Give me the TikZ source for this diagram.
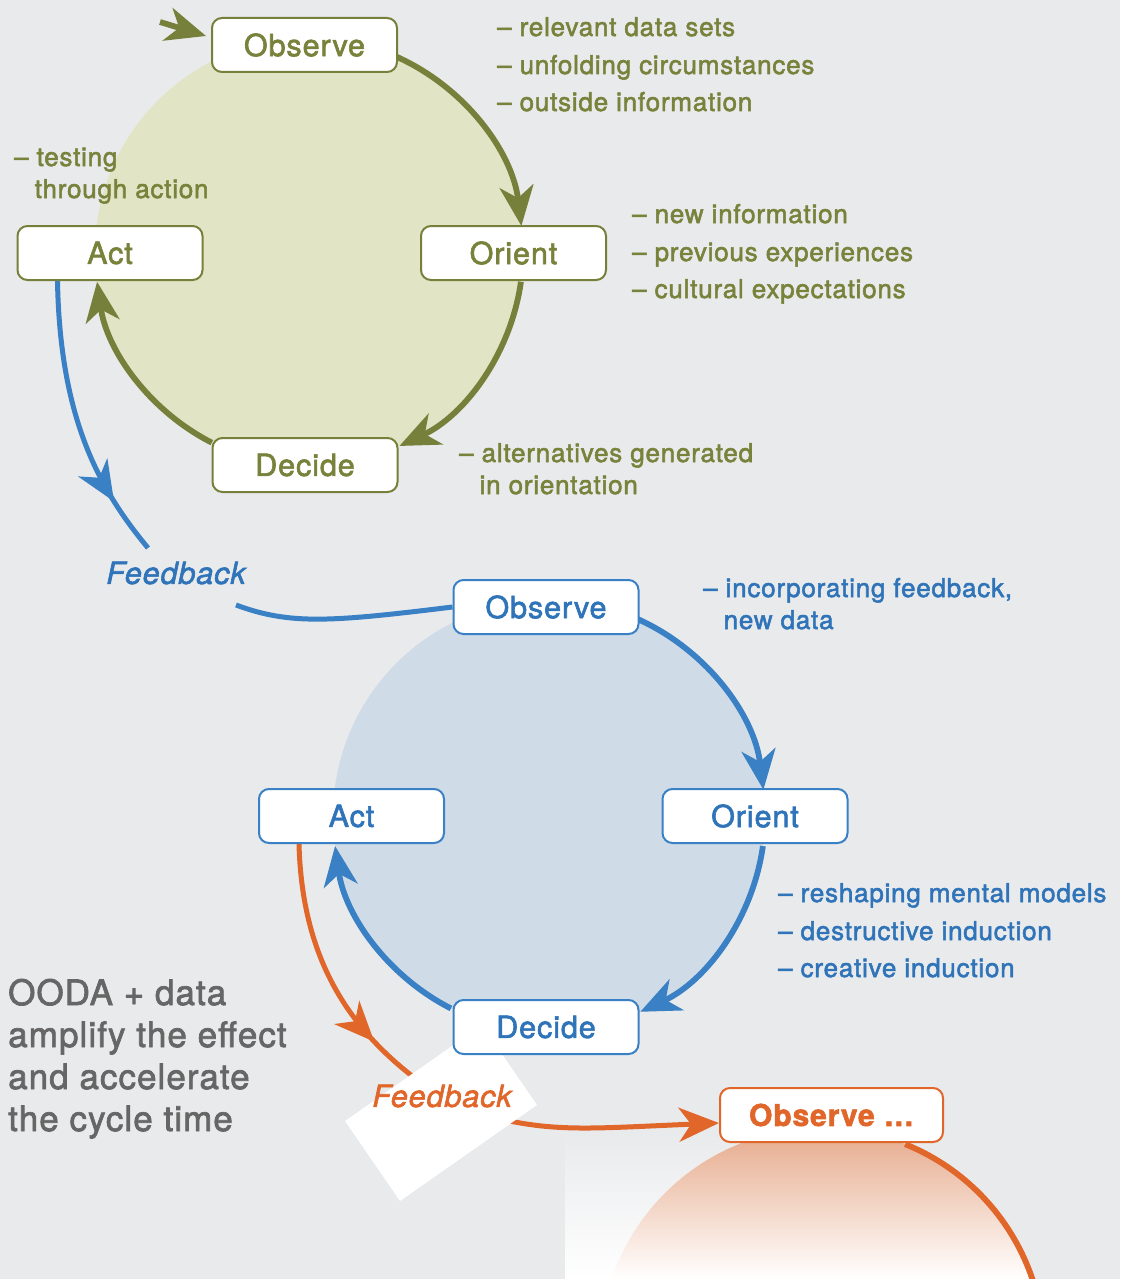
\documentclass[tikz,border=0pt]{standalone}
\usepackage{fontspec}
\setmainfont{TeX Gyre Heros}[FakeBold=2, LetterSpace=3]
\usetikzlibrary{arrows.meta,calc,decorations.markings}
\pgfdeclarelayer{back}
\pgfsetlayers{back,main}
\definecolor{bg}{HTML}{E9EAEC}
\definecolor{gline}{HTML}{76803A}
\definecolor{gtext}{HTML}{78823A}
\definecolor{gdisc}{HTML}{E1E5C6}
\definecolor{bline}{HTML}{3A80C4}
\definecolor{btext}{HTML}{2F74B8}
\definecolor{bdisc}{HTML}{CFDCE8}
\definecolor{oline}{HTML}{E0662A}
\definecolor{odisc}{HTML}{E6A98A}
\definecolor{graytext}{HTML}{666666}
\tikzset{
  bigtip/.tip={Stealth[length=40pt,width=34pt,inset=12pt]},
  box/.style={draw, line width=2pt, rounded corners=10pt, fill=white,
    minimum width=185pt, minimum height=54pt, inner sep=0pt,
    font=\fontsize{30.5}{36}\selectfont},
  gbox/.style={box, draw=gline, text=gtext},
  bbox/.style={box, draw=bline, text=btext},
  obox/.style={box, draw=oline, text=oline, minimum width=223pt, font=\fontsize{30}{36}\selectfont\bfseries},
  arcline/.style={line width=5.8pt, -bigtip},
  fbline/.style={line width=5pt},
  midtip/.style={postaction={decorate}, decoration={markings, mark=at position #1 with {\arrow{bigtip}}}},
  side/.style={anchor=base west, inner sep=0pt, font=\fontsize{26}{32}\selectfont, align=left},
  fbtext/.style={inner sep=0pt, font=\fontsize{30.5}{36}\selectfont\itshape},
}
\begin{document}
\begin{tikzpicture}[x=1pt,y=-1pt]
\useasboundingbox (0,0) rectangle (1120,1279);
\begin{pgfonlayer}{back}
\fill[bg] (0,0) rectangle (1120,1279);
\end{pgfonlayer}
\clip (0,0) rectangle (1120,1279);

% centres
\coordinate (gc) at (309,252);
\coordinate (bc) at (549,816);
\coordinate (oc) at (822,1350);

% nodes
\node[gbox] (gobs) at (304.5,45) {Observe};
\node[gbox] (gori) at (513.5,253) {Orient};
\node[gbox] (gact) at (110,253) {Act};
\node[gbox] (gdec) at (305,465) {Decide};
\node[bbox] (bobs) at (546,607) {Observe};
\node[bbox] (bori) at (755,816) {Orient};
\node[bbox] (bact) at (351.5,816) {Act};
\node[bbox] (bdec) at (546,1027) {Decide};
\node[obox] (oobs) at (831.5,1115) {Observe \dots};

\coordinate (gin) at (160,22);
\coordinate (fb1end) at (148,548);
\coordinate (fb1start) at (236,605);
\coordinate (fb2end) at (420,1082);
\coordinate (fb2start) at (505,1120);

\begin{pgfonlayer}{back}
% discs
\fill[gdisc] (gc) circle[radius=214];
\fill[bdisc] (bc) circle[radius=216];
\shade[top color=bg, bottom color=white] (565,1132) rectangle (900,1279);
\begin{scope}
  \clip (oc) circle[radius=222];
  \shade[top color=odisc, bottom color=white] (560,1128) rectangle (1100,1279);
\end{scope}

% green cycle
\draw[arcline, gline] ($(gc)+(-66:214)$) arc[start angle=-66, end angle=-7, radius=214];
\draw[arcline, gline] ($(gc)+(8:214)$) arc[start angle=8, end angle=65, radius=214];
\draw[arcline, gline] ($(gc)+(117:214)$) arc[start angle=117, end angle=172, radius=214];
\draw[arcline, gline] (gin) -- ($(gobs.north west)+(-5,19)$);

% blue cycle
\draw[arcline, bline] ($(bc)+(-66:216)$) arc[start angle=-66, end angle=-7, radius=216];
\draw[arcline, bline] ($(bc)+(8:216)$) arc[start angle=8, end angle=65, radius=216];
\draw[arcline, bline] ($(bc)+(117:216)$) arc[start angle=117, end angle=172, radius=216];

% orange cycle
\draw[line width=5.8pt, oline] ($(oc)+(-68:222)$) arc[start angle=-68, end angle=5, radius=222];

% blue feedback
\draw[fbline, bline, midtip=0.8] ($(gact.south west)+(41,0)$) .. controls (60,420) and (100,490) .. (fb1end);
\draw[fbline, bline] (fb1start) .. controls (290,625) and (330,622) .. (bobs.west);

% orange feedback
\draw[fbline, oline, midtip=0.78] ($(bact.south west)+(41,0)$) .. controls (302,960) and (350,1030) .. (fb2end);
\draw[fbline, oline, -bigtip] (fb2start) .. controls (560,1132) and (600,1128) .. ($(oobs.west)+(0,8)$);

% white card
\fill[white] (345,1121) -- (400,1201) -- (537,1105) -- (482,1025) -- cycle;
\end{pgfonlayer}

% texts green
\node[side, text=gtext] (t1) at (497,36) {– relevant data sets};
\node[side, text=gtext] (t2) at (497,74) {– unfolding circumstances};
\node[side, text=gtext] (t3) at (497,111) {– outside information};
\node[side, text=gtext] (t4) at (14,198) {– testing\\\hspace{-2pt}\hphantom{– }through action};
\node[side, text=gtext] (t5) at (632,223) {– new information};
\node[side, text=gtext] (t6) at (632,261) {– previous experiences};
\node[side, text=gtext] (t7) at (632,298) {– cultural expectations};
\node[side, text=gtext] (t8) at (459,494) {– alternatives generated\\\hspace{-2pt}\hphantom{– }in orientation};
% texts blue
\node[side, text=btext] (t9) at (703,629) {– incorporating feedback,\\\hspace{-2pt}\hphantom{– }new data};
\node[side, text=btext] (t10) at (778,902) {– reshaping mental models};
\node[side, text=btext] (t11) at (778,940) {– destructive induction};
\node[side, text=btext] (t12) at (778,977) {– creative induction};
% feedback labels
\node[fbtext, text=btext] (fb1) at (176,573) {Feedback};
\node[fbtext, text=oline] (fb2) at (442,1096) {Feedback};
% left gray text
\node[anchor=base west, inner sep=0pt, align=left, text=graytext,
  font=\fontsize{35}{42}\selectfont] (note) at (8,1131)
  {OODA + data\\amplify the effect\\and accelerate\\the cycle time};
\end{tikzpicture}
\end{document}
